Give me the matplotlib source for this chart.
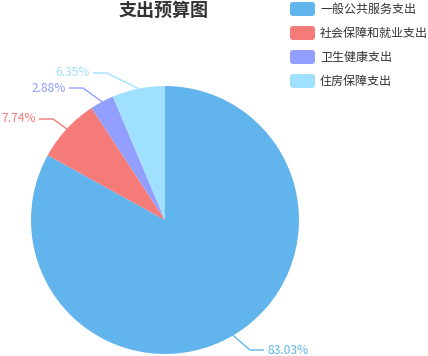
import matplotlib
matplotlib.use('Agg')
import matplotlib.pyplot as plt
from matplotlib.patches import FancyBboxPatch
import numpy as np

# ---- data ----
categories = ['一般公共服务支出', '社会保障和就业支出', '卫生健康支出', '住房保障支出']
values = [83.03, 7.74, 2.88, 6.35]
labels = ['83.03%', '7.74%', '2.88%', '6.35%']
colors = ['#62b4ec', '#f57b78', '#939fff', '#a0e0ff']
title = '支出预算图'

plt.rcParams['font.family'] = ['Noto Sans CJK SC', 'DejaVu Sans']

W, H = 428, 356
fig = plt.figure(figsize=(W / 100, H / 100), dpi=100)
ax = fig.add_axes([0, 0, 1, 1])

def Y(py):
    return H - py

cx, cy, R = 165, Y(220), 134
wedges, _ = ax.pie(values, colors=colors, startangle=90, counterclock=False,
                   center=(cx, cy), radius=R, frame=True,
                   wedgeprops=dict(linewidth=0))
ax.set_xlim(0, W)
ax.set_ylim(0, H)
ax.set_aspect('auto')
ax.axis('off')

# label layout (elbow points in pixel coords)
elbows = [(250, 350), (53, 119), (83, 88), (107, 73)]
seg = 14
fs_px = 12
fs = fs_px * 0.72
for w, lab, col, (ex, ey) in zip(wedges, labels, colors, elbows):
    mid = np.deg2rad((w.theta1 + w.theta2) / 2)
    px, py = cx + R * np.cos(mid), cy + R * np.sin(mid)
    if ex > cx:
        hx = ex + seg
        ax.text(hx + 4, Y(ey), lab, color=col, fontsize=fs, ha='left', va='center')
    else:
        hx = ex - seg
        ax.text(hx - 3, Y(ey), lab, color=col, fontsize=fs, ha='right', va='center')
    ax.plot([px, ex, hx], [py, Y(ey), Y(ey)], color=col, lw=1, solid_capstyle='butt')

# title
ax.text(164, Y(10), title, ha='center', va='center', fontsize=13, fontweight='bold', color='#333333')

# legend
for i, (cat, col) in enumerate(zip(categories, colors)):
    yc = 9 + 24 * i
    box = FancyBboxPatch((290, Y(yc) - 7), 25, 14, boxstyle='round,pad=0,rounding_size=3',
                         facecolor=col, edgecolor='none')
    ax.add_patch(box)
    ax.text(320, Y(yc), cat, ha='left', va='center', fontsize=fs, color='#333333')

fig.savefig('out.png', dpi=100)
